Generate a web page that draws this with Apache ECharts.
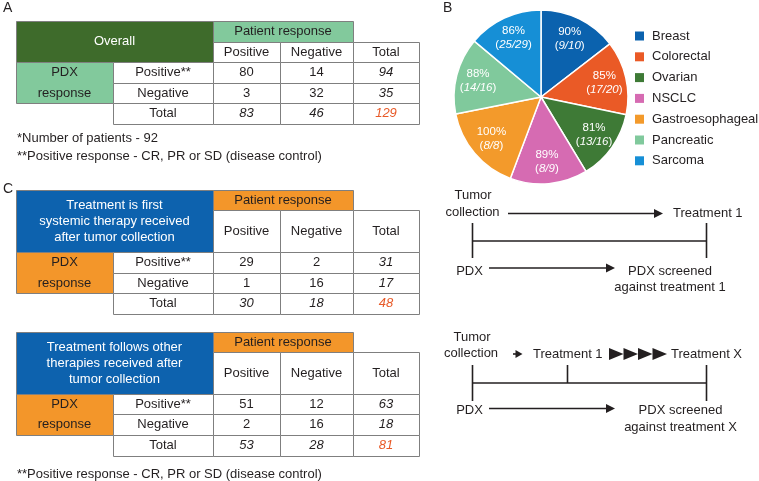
<!DOCTYPE html>
<html>
<head>
<meta charset="utf-8">
<script src="https://cdn.jsdelivr.net/npm/echarts@6/dist/echarts.min.js"></script>
<style>
html,body{margin:0;padding:0;background:#fff;}
#main{width:759px;height:481px;}
</style>
</head>
<body>
<div id="main"></div>
<script>
// ---------- Data ----------
const categories = ['Breast', 'Colorectal', 'Ovarian', 'NSCLC', 'Gastroesophageal', 'Pancreatic', 'Sarcoma'];
const pctValues = [90, 85, 81, 89, 100, 88, 86];
const responders = [9, 17, 13, 8, 8, 14, 25];
const patientTotals = [10, 20, 16, 9, 8, 16, 29];
const pieColors = ['#0b62ae', '#ea5a26', '#3e7a36', '#d66bb2', '#f39a2b', '#80c99c', '#168fd6'];

const colHeaders = ['Positive', 'Negative', 'Total'];
const rowHeaders = ['Positive**', 'Negative', 'Total'];

const tableA_pos = [80, 14, 94];
const tableA_neg = [3, 32, 35];
const tableA_tot = [83, 46, 129];

const tableC1_pos = [29, 2, 31];
const tableC1_neg = [1, 16, 17];
const tableC1_tot = [30, 18, 48];

const tableC2_pos = [51, 12, 63];
const tableC2_neg = [2, 16, 18];
const tableC2_tot = [53, 28, 81];

const titleA = ['Overall'];
const titleC1 = ['Treatment is first', 'systemic therapy received', 'after tumor collection'];
const titleC2 = ['Treatment follows other', 'therapies received after', 'tumor collection'];

// ---------- Styling helpers ----------
const FONT = '"Liberation Sans", Arial, Helvetica, sans-serif';
const TXT = '#231f20';
const BORDER = '#7f7f7f';
const els = [];

function txt(x, y, s, opts) {
  opts = opts || {};
  els.push({
    type: 'text', silent: true, z: 10,
    style: {
      x: x, y: y, text: s,
      font: (opts.italic ? 'italic ' : '') + (opts.size || 13) + 'px ' + FONT,
      fill: opts.color || TXT,
      align: opts.align || 'center', verticalAlign: 'middle',
      textAlign: opts.align || 'center', textVerticalAlign: 'middle'
    }
  });
}
function rect(x, y, w, h, fill) {
  els.push({
    type: 'rect', silent: true, z: 5,
    shape: { x: x + 0.5, y: y + 0.5, width: w, height: h },
    style: { fill: fill, stroke: BORDER, lineWidth: 1 }
  });
}
function line(x1, y1, x2, y2) {
  els.push({
    type: 'line', silent: true, z: 5,
    shape: { x1: x1, y1: y1, x2: x2, y2: y2 },
    style: { stroke: TXT, lineWidth: 1.6 }
  });
}
function tri(x1, x2, y, half) {
  els.push({
    type: 'polygon', silent: true, z: 6,
    shape: { points: [[x1, y - half], [x2, y], [x1, y + half]] },
    style: { fill: TXT }
  });
}
function arrow(x1, x2, y, head, half) {
  line(x1, y, x2 - head + 1, y);
  tri(x2 - head, x2, y, half);
}

// ---------- Tables ----------
const X = [16, 113, 213, 280, 353, 419];
function buildTable(rows, title, darkFill, lightFill, data) {
  const [y0, yPR, yH, r1, r2, r3] = rows;
  rect(X[0], y0, X[2] - X[0], yH - y0, darkFill);
  const lh = 16;
  const cy = (y0 + yH) / 2;
  title.forEach((t, i) => txt((X[0] + X[2]) / 2, cy + (i - (title.length - 1) / 2) * lh, t, { color: '#ffffff' }));
  rect(X[2], y0, X[4] - X[2], yPR - y0, lightFill);
  txt((X[2] + X[4]) / 2, (y0 + yPR) / 2, 'Patient response');
  for (let c = 0; c < 3; c++) {
    rect(X[2 + c], yPR, X[3 + c] - X[2 + c], yH - yPR, '#ffffff');
    txt((X[2 + c] + X[3 + c]) / 2, (yPR + yH) / 2, colHeaders[c]);
  }
  rect(X[0], yH, X[1] - X[0], r2 - yH, lightFill);
  txt((X[0] + X[1]) / 2, (yH + r1) / 2, 'PDX');
  txt((X[0] + X[1]) / 2, (r1 + r2) / 2, 'response');
  const ry = [yH, r1, r2, r3];
  for (let r = 0; r < 3; r++) {
    rect(X[1], ry[r], X[2] - X[1], ry[r + 1] - ry[r], '#ffffff');
    txt((X[1] + X[2]) / 2, (ry[r] + ry[r + 1]) / 2, rowHeaders[r]);
    for (let c = 0; c < 3; c++) {
      rect(X[2 + c], ry[r], X[3 + c] - X[2 + c], ry[r + 1] - ry[r], '#ffffff');
      const italic = (r === 2 || c === 2);
      const color = (r === 2 && c === 2) ? '#e85a28' : TXT;
      txt((X[2 + c] + X[3 + c]) / 2, (ry[r] + ry[r + 1]) / 2, String(data[r][c]), { italic: italic, color: color });
    }
  }
}

buildTable([21, 42, 62, 83, 103, 124], titleA, '#3e6b2b', '#82c99c', [tableA_pos, tableA_neg, tableA_tot]);
buildTable([190, 210, 252, 273, 293, 314], titleC1, '#0d62ae', '#f3962a', [tableC1_pos, tableC1_neg, tableC1_tot]);
buildTable([332, 352, 394, 414, 435, 456], titleC2, '#0d62ae', '#f3962a', [tableC2_pos, tableC2_neg, tableC2_tot]);

txt(17, 138, '*Number of patients - 92', { align: 'left' });
txt(17, 156, '**Positive response - CR, PR or SD (disease control)', { align: 'left' });
txt(17, 474, '**Positive response - CR, PR or SD (disease control)', { align: 'left' });

txt(3, 8, 'A', { align: 'left', size: 14 });
txt(443, 8, 'B', { align: 'left', size: 14 });
txt(3, 189, 'C', { align: 'left', size: 14 });

// ---------- Timeline diagrams ----------
txt(473, 195, 'Tumor');
txt(472.5, 212, 'collection');
arrow(508, 663, 213.5, 9, 4.5);
txt(673, 213.5, 'Treatment 1', { align: 'left' });
line(472.5, 223, 472.5, 258);
line(706.5, 223, 706.5, 258);
line(472.5, 241, 706.5, 241);
txt(469.5, 271, 'PDX');
arrow(489, 615, 268, 9, 4.5);
txt(670, 271, 'PDX screened');
txt(670, 287, 'against treatment 1');

txt(472, 337, 'Tumor');
txt(471, 353.5, 'collection');
arrow(513, 522.5, 354, 7, 4);
txt(533, 354, 'Treatment 1', { align: 'left' });
for (let i = 0; i < 4; i++) tri(609 + i * 14.5, 609 + (i + 1) * 14.5, 354, 6);
txt(671, 354, 'Treatment X', { align: 'left' });
line(472.5, 365, 472.5, 401);
line(706.5, 365, 706.5, 401);
line(567.5, 365, 567.5, 383);
line(472.5, 383, 706.5, 383);
txt(469.5, 410.5, 'PDX');
arrow(489, 615, 408.5, 9, 4.5);
txt(680.5, 410.5, 'PDX screened');
txt(680.5, 427, 'against treatment X');

// ---------- Pie ----------
const pieData = categories.map((c, i) => ({
  name: c, value: pctValues[i], itemStyle: { color: pieColors[i] }
}));
const labelData = categories.map((c, i) => ({
  name: c, value: pctValues[i],
  frac: responders[i] + '/' + patientTotals[i]
}));

const chart = echarts.init(document.getElementById('main'), null, { renderer: 'canvas' });
chart.setOption({
  backgroundColor: '#ffffff',
  animation: false,
  legend: {
    orient: 'vertical',
    left: 630, top: 24,
    itemWidth: 9, itemHeight: 9, itemGap: 6.8,
    icon: 'rect',
    itemStyle: { borderWidth: 0 },
    data: categories,
    textStyle: { fontFamily: FONT, fontSize: 13, color: TXT, lineHeight: 14, padding: [0, 0, 0, 3] },
    selectedMode: false
  },
  series: [
    {
      type: 'pie', center: [541, 97], radius: [0, 87],
      startAngle: 90, clockwise: true, silent: true,
      label: { show: false }, labelLine: { show: false },
      itemStyle: { borderColor: '#ffffff', borderWidth: 1.5 },
      data: pieData
    },
    {
      type: 'pie', center: [541, 97], radius: [36, 88],
      startAngle: 90, clockwise: true, silent: true, z: 3,
      itemStyle: { color: 'rgba(0,0,0,0)', borderWidth: 0 },
      labelLine: { show: false },
      label: {
        show: true, position: 'inside',
        formatter: p => '{a|' + p.value + '%}\n{b|(}{c|' + p.data.frac + '}{b|)}',
        rich: {
          a: { color: '#fff', fontFamily: FONT, fontSize: 11.5, lineHeight: 14 },
          b: { color: '#fff', fontFamily: FONT, fontSize: 11.5, lineHeight: 14 },
          c: { color: '#fff', fontFamily: FONT, fontSize: 11.5, fontStyle: 'italic', lineHeight: 14 }
        }
      },
      data: labelData
    }
  ],
  graphic: { elements: els }
});
</script>
</body>
</html>
